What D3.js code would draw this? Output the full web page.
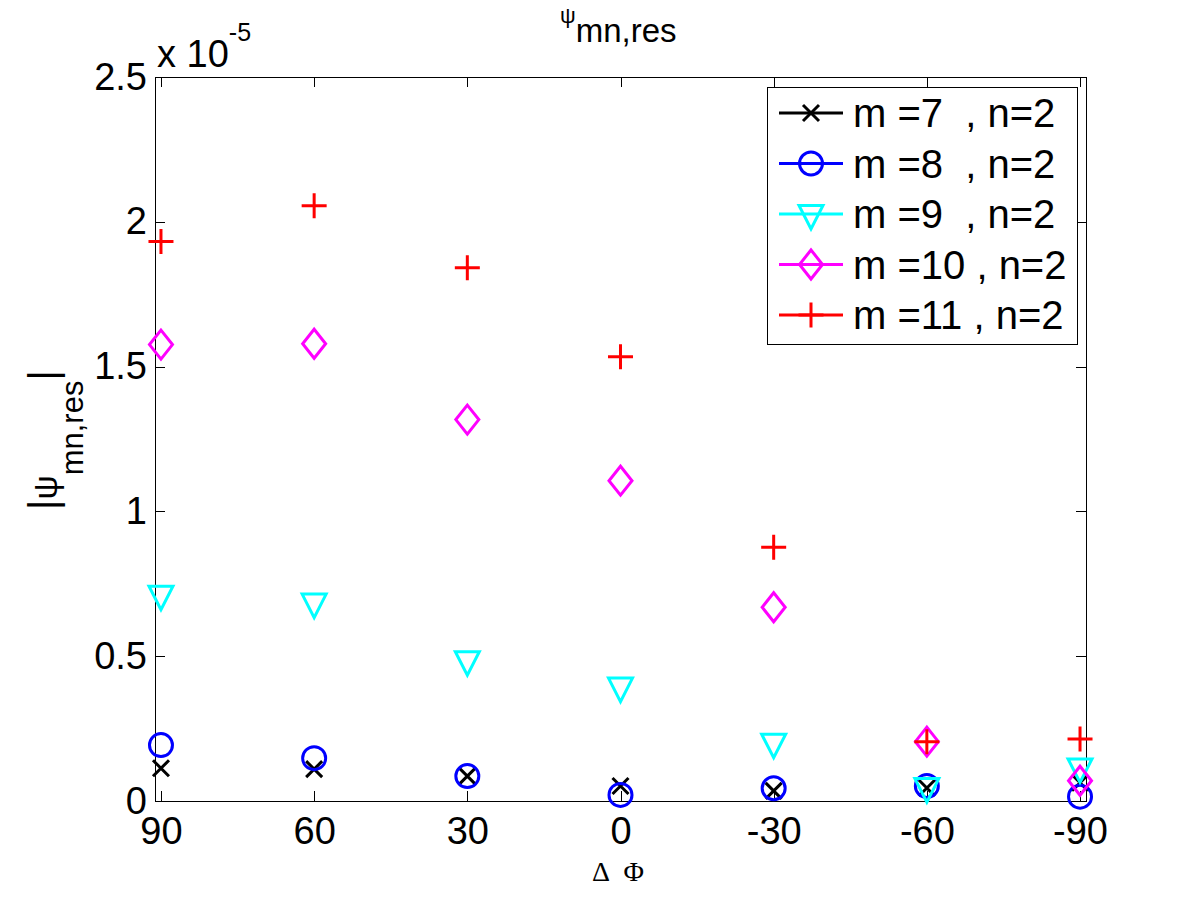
<!DOCTYPE html>
<html>
<head>
<meta charset="utf-8">
<script src="https://cdn.jsdelivr.net/npm/d3@7"></script>
<style>
  html, body { margin: 0; padding: 0; background: #fff; }
  svg { display: block; }
  text { font-family: "Liberation Sans", Arial, sans-serif; fill: #000; }
</style>
</head>
<body>
<svg id="chart" width="1200" height="900"></svg>
<script>
// ---------------- data ----------------
const deltaPhi = [90, 60, 30, 0, -30, -60, -90];
const xTickLabels = ["90", "60", "30", "0", "-30", "-60", "-90"];
const yTickValues = [0, 0.5e-5, 1e-5, 1.5e-5, 2e-5, 2.5e-5];
const yTickLabels = ["0", "0.5", "1", "1.5", "2", "2.5"];

const seriesNames = ["m =7  , n=2", "m =8  , n=2", "m =9  , n=2", "m =10 , n=2", "m =11 , n=2"];
const seriesColors = ["#000000", "#0000ff", "#00ffff", "#ff00ff", "#ff0000"];
const seriesMarkers = ["x", "circle", "triangleDown", "diamond", "plus"];

const m7  = [0.113e-5, 0.110e-5, 0.086e-5, 0.052e-5, 0.035e-5, 0.045e-5, 0.063e-5];
const m8  = [0.193e-5, 0.148e-5, 0.086e-5, 0.021e-5, 0.044e-5, 0.052e-5, 0.015e-5];
const m9  = [0.712e-5, 0.685e-5, 0.486e-5, 0.395e-5, 0.201e-5, 0.048e-5, 0.116e-5];
const m10 = [1.576e-5, 1.579e-5, 1.317e-5, 1.106e-5, 0.669e-5, 0.205e-5, 0.070e-5];
const m11 = [1.932e-5, 2.055e-5, 1.841e-5, 1.534e-5, 0.876e-5, 0.205e-5, 0.214e-5];
const seriesValues = [m7, m8, m9, m10, m11];

const xLimits = [91.17, -91.17];
const yLimits = [0, 2.5e-5];

// ---------------- layout ----------------
const plot = { left: 155, right: 1086, top: 77, bottom: 801 };
const svg = d3.select("#chart");

const x = d3.scaleLinear().domain(xLimits).range([plot.left, plot.right]);
const y = d3.scaleLinear().domain(yLimits).range([plot.bottom, plot.top]);

// ---------------- marker shapes ----------------
const markerTypes = {
  x: { draw(c) { const s = 8; c.moveTo(-s, -s); c.lineTo(s, s); c.moveTo(-s, s); c.lineTo(s, -s); } },
  circle: { draw(c) { const r = 11.5; c.moveTo(r, 0); c.arc(0, 0, r, 0, 2 * Math.PI); c.closePath(); } },
  triangleDown: { draw(c) { c.moveTo(-12, -8.5); c.lineTo(12, -8.5); c.lineTo(0, 15); c.closePath(); } },
  diamond: { draw(c) { c.moveTo(0, -14.5); c.lineTo(11.5, 0); c.lineTo(0, 14.5); c.lineTo(-11.5, 0); c.closePath(); } },
  plus: { draw(c) { const s = 12.5; c.moveTo(-s, 0); c.lineTo(s, 0); c.moveTo(0, -s); c.lineTo(0, s); } }
};
const markerPath = name => d3.symbol().type(markerTypes[name])();

// ---------------- axes ----------------
const fontSize = 38;
const gx = svg.append("g").attr("transform", `translate(0,${plot.bottom})`)
  .call(d3.axisBottom(x).tickValues(deltaPhi).tickFormat((d, i) => xTickLabels[i])
    .tickSizeInner(-10).tickSizeOuter(0).tickPadding(16));
const gxTop = svg.append("g").attr("transform", `translate(0,${plot.top})`)
  .call(d3.axisTop(x).tickValues(deltaPhi).tickFormat("")
    .tickSizeInner(-10).tickSizeOuter(0));
const gy = svg.append("g").attr("transform", `translate(${plot.left},0)`)
  .call(d3.axisLeft(y).tickValues(yTickValues).tickFormat((d, i) => yTickLabels[i])
    .tickSizeInner(-10).tickSizeOuter(0).tickPadding(8));
const gyRight = svg.append("g").attr("transform", `translate(${plot.right},0)`)
  .call(d3.axisRight(y).tickValues(yTickValues).tickFormat("")
    .tickSizeInner(-10).tickSizeOuter(0));

[gx, gxTop, gy, gyRight].forEach(g => {
  g.selectAll(".domain").remove();
  g.selectAll(".tick line").attr("stroke", "#000").attr("stroke-width", 1).attr("shape-rendering", "crispEdges");
  g.selectAll(".tick text")
    .attr("font-family", '"Liberation Sans", Arial, sans-serif')
    .attr("font-size", fontSize).attr("fill", "#000");
});

// frame
svg.append("rect")
  .attr("x", plot.left).attr("y", plot.top)
  .attr("width", plot.right - plot.left).attr("height", plot.bottom - plot.top)
  .attr("fill", "none").attr("stroke", "#000").attr("stroke-width", 1)
  .attr("shape-rendering", "crispEdges");

// exponent label
const expo = svg.append("text").attr("x", 157).attr("y", 67).attr("font-size", fontSize);
expo.append("tspan").text("x 10");
expo.append("tspan").attr("dy", -26).attr("font-size", 25).text("-5");

// title
const title = svg.append("text").attr("x", 560).attr("y", 23);
title.append("tspan").attr("font-size", 22).text("ψ");
title.append("tspan").attr("dy", 19).attr("font-size", 33).text("mn,res");

// y label
const ylab = svg.append("text").attr("transform", "translate(57,510) rotate(-90)");
ylab.append("tspan").attr("font-size", 40).text("|");
ylab.append("tspan").attr("font-size", 34).text("ψ");
ylab.append("tspan").attr("dy", 26).attr("font-size", 31).text("mn,res");
ylab.append("tspan").attr("dy", -26).attr("font-size", 40).text("|");

// x label
svg.append("text").attr("x", 592).attr("y", 881)
  .style("font-family", '"Liberation Serif", "Times New Roman", serif')
  .attr("font-size", 28).attr("word-spacing", 8)
  .text("Δ Φ");

// ---------------- data marks ----------------
seriesValues.forEach((vals, si) => {
  const g = svg.append("g").attr("class", "series");
  g.selectAll("path")
    .data(vals.map((v, i) => ({ x: deltaPhi[i], y: v })))
    .join("path")
    .attr("transform", d => `translate(${x(d.x)},${y(d.y)})`)
    .attr("d", markerPath(seriesMarkers[si]))
    .attr("fill", "none")
    .attr("stroke", seriesColors[si])
    .attr("stroke-width", 3);
});

// ---------------- legend ----------------
const legend = svg.append("g");
legend.append("rect")
  .attr("x", 767).attr("y", 87).attr("width", 310).attr("height", 257)
  .attr("fill", "#fff").attr("stroke", "#000").attr("stroke-width", 1)
  .attr("shape-rendering", "crispEdges");
const rowY = d3.scalePoint().domain(d3.range(seriesNames.length)).range([113, 315]);
seriesNames.forEach((name, i) => {
  const yy = rowY(i);
  legend.append("line").attr("x1", 779).attr("x2", 843).attr("y1", yy).attr("y2", yy)
    .attr("stroke", seriesColors[i]).attr("stroke-width", 3);
  legend.append("path").attr("transform", `translate(811,${yy})`)
    .attr("d", markerPath(seriesMarkers[i]))
    .attr("fill", "none").attr("stroke", seriesColors[i]).attr("stroke-width", 3);
  legend.append("text").attr("x", 853).attr("y", yy + 14)
    .attr("font-size", 40).style("white-space", "pre").attr("xml:space", "preserve")
    .text(name);
});
</script>
</body>
</html>
